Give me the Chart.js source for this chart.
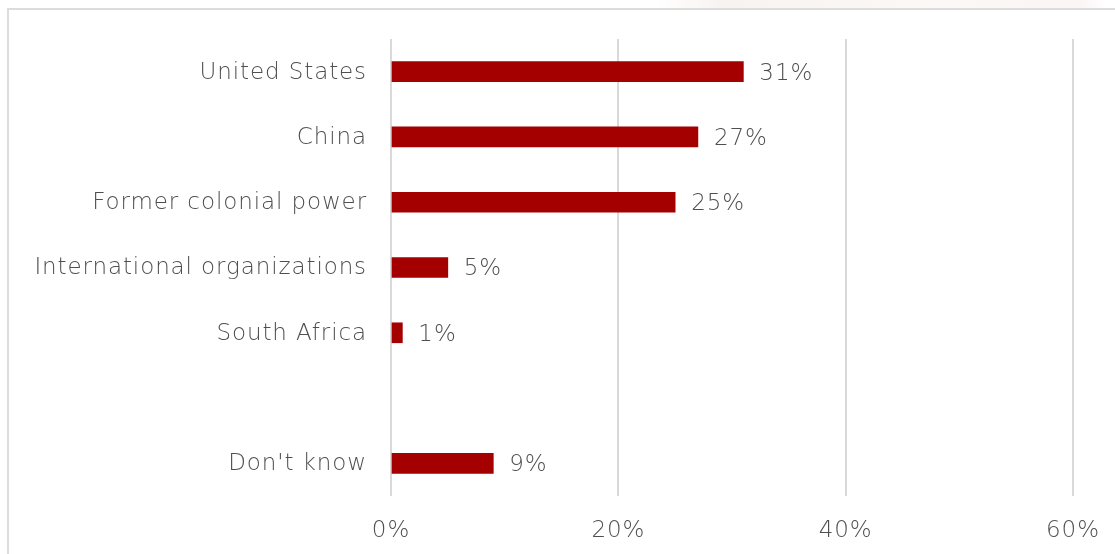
<!DOCTYPE html>
<html>
<head>
<meta charset="utf-8">
<script src="https://cdn.jsdelivr.net/npm/chart.js@4"></script>
<style>
  html, body { margin: 0; padding: 0; background: #fff; }
  #wrap { position: relative; width: 1115px; height: 554px; overflow: hidden; }
  #band { position: absolute; left: 655px; top: 0; width: 450px; height: 9px;
          background: linear-gradient(90deg, #fff 0%, #f8f3f1 15%, #fcf8f6 60%, #fbf6f5 95%, #fff 100%); }
  #frame { position: absolute; left: 7px; top: 8px; width: 1200px; height: 600px;
           border: 2px solid #dcdcdc; box-sizing: border-box; }
  #chart { position: absolute; left: 0; top: 0; }
</style>
</head>
<body>
<div id="wrap">
  <div id="band"></div>
  <div id="frame"></div>
  <canvas id="chart" width="1115" height="554"></canvas>
</div>
<script>
document.addEventListener('DOMContentLoaded', () => {
  // === Data ===
  const categories = ['United States', 'China', 'Former colonial power', 'International organizations', 'South Africa', '', "Don't know"];
  const shares = [31, 27, 25, 5, 1, null, 9];
  const tickValues = [0, 20, 40, 60];

  const textColor = '#4f4f4f';
  const labelFont = { family: '"DejaVu Sans", sans-serif', size: 23, weight: 200 };
  const tracking = '0.9px';

  // slightly wider tracking for all canvas text
  const spacing = {
    id: 'spacing',
    beforeInit(chart) { chart.ctx.letterSpacing = tracking; },
    beforeLayout(chart) { chart.ctx.letterSpacing = tracking; },
    beforeDraw(chart) { chart.ctx.letterSpacing = tracking; }
  };

  // value labels drawn past the end of each bar
  const valueLabels = {
    id: 'valueLabels',
    afterDatasetsDraw(chart) {
      const ctx = chart.ctx;
      const meta = chart.getDatasetMeta(0);
      ctx.save();
      ctx.font = `${labelFont.weight} ${labelFont.size}px ${labelFont.family}`;
      ctx.fillStyle = textColor;
      ctx.textAlign = 'left';
      ctx.textBaseline = 'middle';
      meta.data.forEach((bar, i) => {
        if (shares[i] == null) return;
        ctx.fillText(shares[i] + '%', bar.x + 16, bar.y + 2);
      });
      ctx.restore();
    }
  };

  const ctx = document.getElementById('chart').getContext('2d');
  new Chart(ctx, {
    type: 'bar',
    data: {
      labels: categories,
      datasets: [{
        data: shares,
        backgroundColor: '#a50000',
        barThickness: 20
      }]
    },
    options: {
      indexAxis: 'y',
      responsive: false,
      animation: false,
      layout: { padding: { top: 39, right: 42, left: 0, bottom: 0 } },
      plugins: { legend: { display: false }, tooltip: { enabled: false } },
      scales: {
        x: {
          min: 0,
          max: 60,
          afterBuildTicks: scale => { scale.ticks = tickValues.map(v => ({ value: v })); },
          afterFit: scale => {
            scale.height = 58;
            scale.paddingLeft = 0;
            scale.paddingRight = 0;
          },
          grid: { color: '#d9d9d9', lineWidth: 2, drawTicks: false },
          border: { display: false },
          ticks: {
            padding: 21,
            color: textColor,
            font: labelFont,
            callback: v => v + '%'
          }
        },
        y: {
          afterFit: scale => { scale.width = 391; },
          grid: { display: false, drawTicks: false },
          border: { display: false },
          ticks: { padding: 24, labelOffset: 1, color: textColor, font: labelFont }
        }
      }
    },
    plugins: [spacing, valueLabels]
  });
});
</script>
</body>
</html>
